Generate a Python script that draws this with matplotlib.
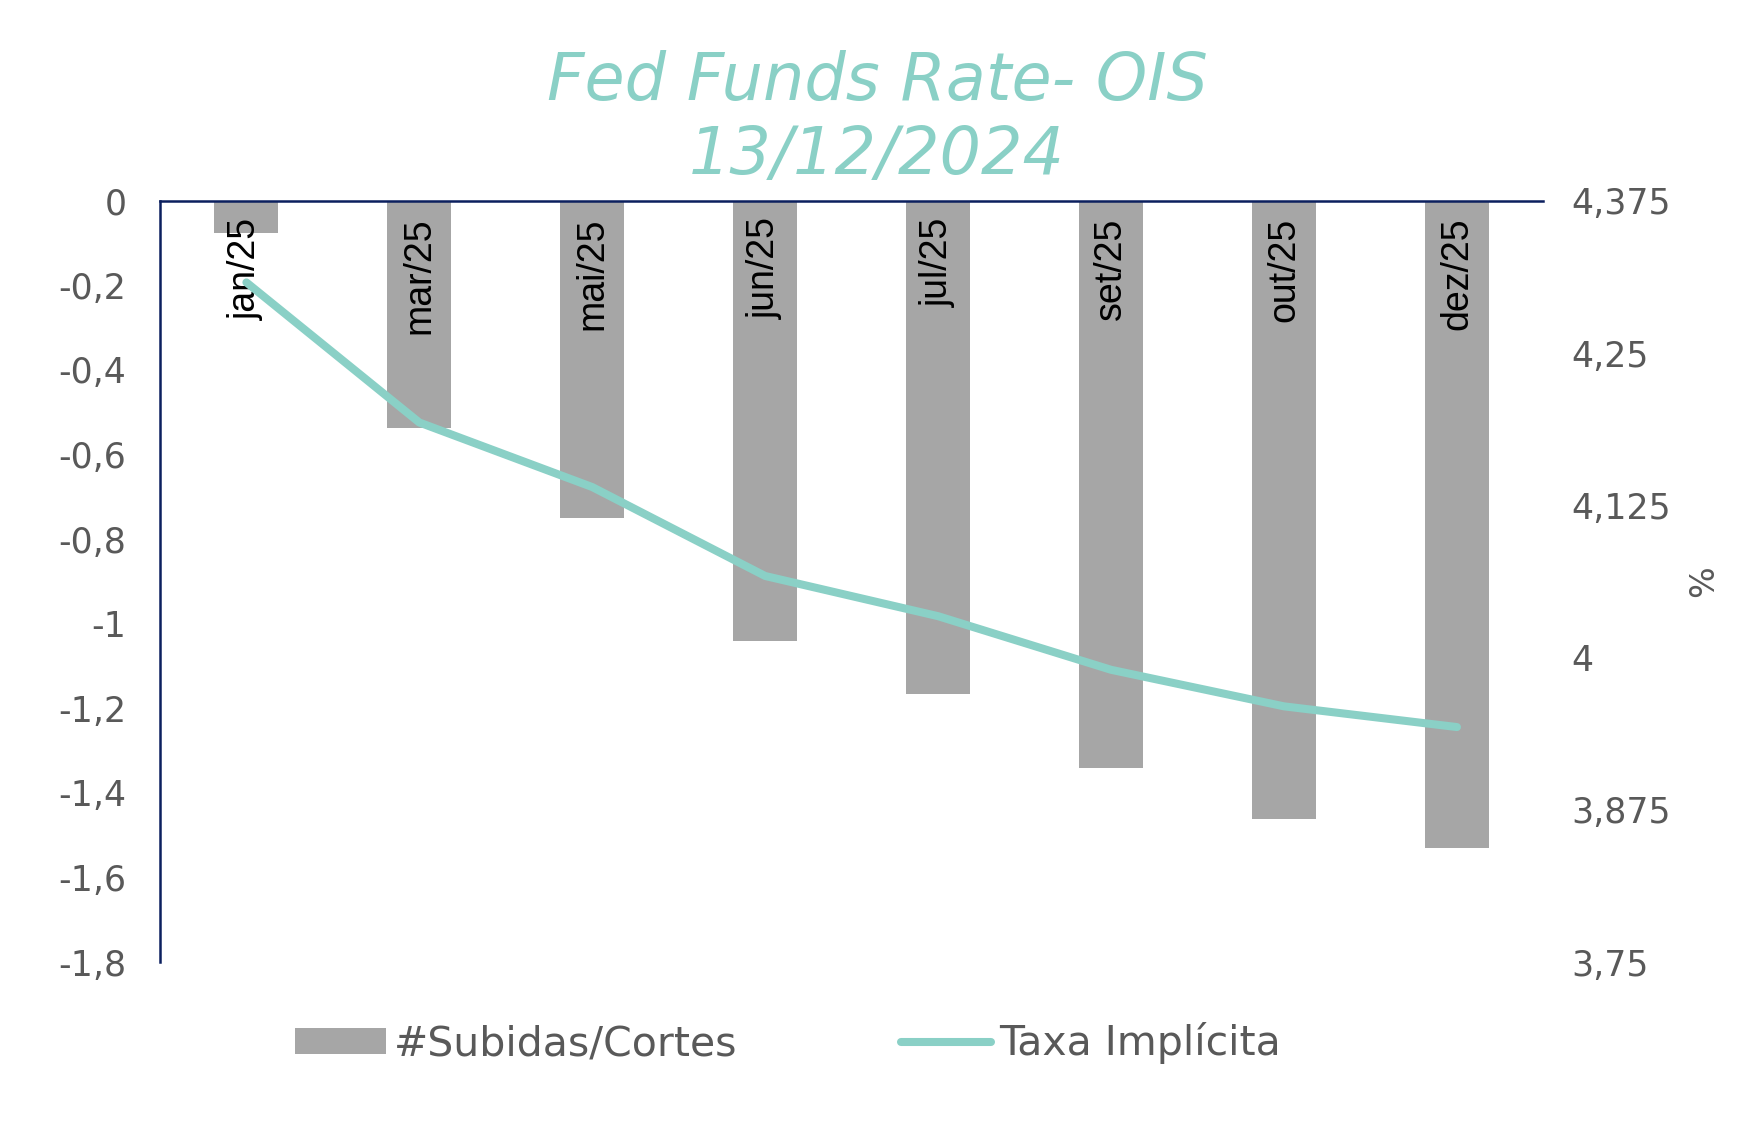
import matplotlib
matplotlib.use('Agg')
import matplotlib.pyplot as plt
from matplotlib.lines import Line2D
from matplotlib.patches import Patch
import numpy as np

# data
meses = ['jan/25', 'mar/25', 'mai/25', 'jun/25', 'jul/25', 'set/25', 'out/25', 'dez/25']
subidas_cortes = [-0.076, -0.536, -0.751, -1.04, -1.167, -1.34, -1.461, -1.529]
taxa_implicita = [4.308, 4.193, 4.140, 4.067, 4.034, 3.990, 3.960, 3.943]

left_ticks = [0, -0.2, -0.4, -0.6, -0.8, -1, -1.2, -1.4, -1.6, -1.8]
right_ticks = [3.75, 3.875, 4, 4.125, 4.25, 4.375]

# colours
bar_col = '#A6A6A6'
line_col = '#8AD0C6'
axis_col = '#0B1F5E'
txt_col = '#595959'

plt.rcParams['font.family'] = ['DejaVu Sans']


def br(v):
    # brazilian number format, no trailing zeros
    s = ('%.3f' % v).rstrip('0').rstrip('.')
    if s == '-0':
        s = '0'
    return s.replace('.', ',')


fig = plt.figure(figsize=(17.44, 11.28), dpi=100)
ax = fig.add_axes([0.0917, 0.147, 0.7933, 0.675])

x = np.arange(len(meses))
ax.bar(x, subidas_cortes, width=0.37, color=bar_col, zorder=2)
ax.set_xlim(-0.5, len(meses) - 0.5)
ax.set_ylim(-1.8, 0)
ax.set_yticks(left_ticks)
ax.set_yticklabels([br(v) for v in left_ticks])
ax.set_xticks([])
ax.tick_params(axis='y', length=0, pad=24, labelsize=25, labelcolor=txt_col)

for s in ['right', 'bottom']:
    ax.spines[s].set_visible(False)
for s in ['left', 'top']:
    ax.spines[s].set_color(axis_col)
    ax.spines[s].set_linewidth(1.8)

# month labels just under the zero line
for i, m in enumerate(meses):
    ax.annotate(m, (x[i], 0), xytext=(0, -12), textcoords='offset points',
                rotation=90, ha='center', va='top', fontsize=27,
                family=['Liberation Sans', 'DejaVu Sans'], color='black', zorder=3)

ax2 = ax.twinx()
ax2.plot(x, taxa_implicita, color=line_col, lw=5.8, solid_capstyle='round',
         solid_joinstyle='round')
ax2.set_ylim(3.75, 4.375)
ax2.set_yticks(right_ticks)
ax2.set_yticklabels([br(v) for v in right_ticks])
ax2.tick_params(axis='y', length=0, pad=20, labelsize=25, labelcolor=txt_col)
for s in ax2.spines.values():
    s.set_visible(False)

fig.text(0.977, 0.485, '%', rotation=90, ha='center', va='center',
         fontsize=24, color=txt_col)

fig.text(0.503, 0.927, 'Fed Funds Rate- OIS', ha='center', va='center',
         fontsize=47, style='oblique', color=line_col)
fig.text(0.503, 0.862, '13/12/2024', ha='center', va='center',
         fontsize=47, style='oblique', color=line_col)

handles = [Patch(facecolor=bar_col, edgecolor='none'),
           Line2D([0], [0], color=line_col, lw=5.8, solid_capstyle='round')]
fig.legend(handles, ['#Subidas/Cortes', 'Taxa Implícita'], loc='center',
           bbox_to_anchor=(0.452, 0.075), ncol=2, frameon=False, fontsize=29.5,
           labelcolor=txt_col, handlelength=2.2, handleheight=0.6,
           handletextpad=0.2, columnspacing=4.0)

fig.savefig('out.png', dpi=100, facecolor='white')
